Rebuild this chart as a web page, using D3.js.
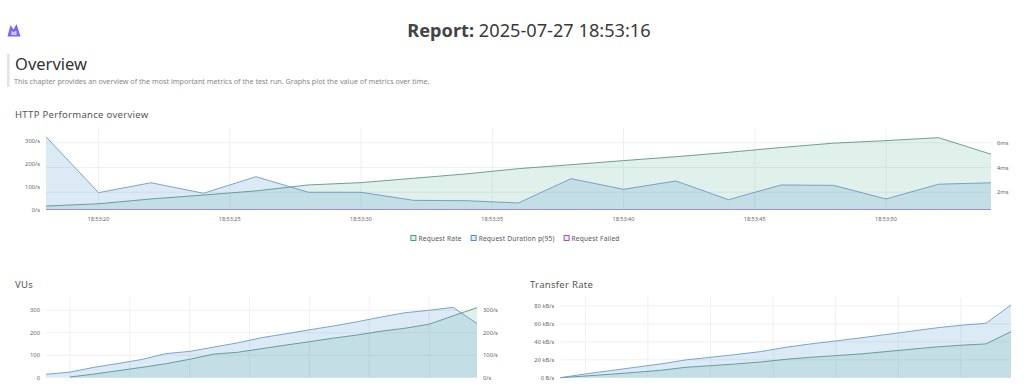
<!DOCTYPE html>
<html>
<head>
<meta charset="utf-8">
<script src="https://cdn.jsdelivr.net/npm/d3@7"></script>
<style>
  body { margin: 0; background: #fff; }
  svg text { font-family: "Noto Sans", "Open Sans", sans-serif; }
</style>
</head>
<body>
<script>
// sample times (every 2s)
var times = ["18:53:18","18:53:20","18:53:22","18:53:24","18:53:26","18:53:28","18:53:30","18:53:32","18:53:34","18:53:36",
             "18:53:38","18:53:40","18:53:42","18:53:44","18:53:46","18:53:48","18:53:50","18:53:52","18:53:54"];

// HTTP performance overview
var reqRate = [15,25,46,63,81,107,117,136,155,178,195,213,230,249,270,289,300,313,241];
var reqDuration = [6.48,1.97,2.77,1.92,3.26,2.0,2.0,1.35,1.32,1.14,3.10,2.24,2.91,1.40,2.59,2.56,1.46,2.65,2.77];
var reqFailed = [0,0,0,0,0,0,0,0,0,0,0,0,0,0,0,0,0,0,0];

// VUs chart
var vus = [null,3,16,31,46,62,82,105,113,129,145,160,176,190,207,220,238,275,312];

// Transfer rate (kB/s)
var dataReceived = [0,4.2,7.9,11.6,15.3,19.8,22.8,25.8,29.1,33.9,37.7,41,44.4,48.1,51.8,55.5,58.5,60.7,81.2];
var dataSent = [0,1.9,3.8,6,8.2,11.6,13.4,15.3,17.5,20.5,22.8,24.6,26.5,29.1,31.7,34.3,36.2,37.7,51.4];

var legendNames = ["Request Rate","Request Duration p(95)","Request Failed"];

var parseT = d3.timeParse("%Y-%m-%d %H:%M:%S");
var dates = times.map(function(t){ return parseT("2025-07-27 " + t); });
var fmtT = d3.timeFormat("%H:%M:%S");

var GREEN = "rgb(100,180,150)", BLUE = "rgb(80,150,210)", PURPLE = "#9b7fc7";
var GREEN_LINE = "rgb(85,145,130)", BLUE_LINE = "rgb(100,150,195)";

var svg = d3.select("body").append("svg").attr("width",1024).attr("height",384);

// logo
svg.append("path").attr("d","M7.5,36.5 L10.5,25 L13.5,29.5 L16.5,24 L20.5,36.5 Z").attr("fill","#7d64ff");
svg.append("text").attr("x",14).attr("y",35).attr("text-anchor","middle").attr("font-size",4.5)
  .attr("font-weight","bold").attr("fill","#fff").text("k6");

// header
var title = svg.append("text").attr("x",529).attr("y",37).attr("text-anchor","middle")
  .attr("font-size",18.2).attr("fill","#444");
title.append("tspan").attr("font-weight","bold").text("Report: ");
title.append("tspan").attr("fill","#3a3a3a").text("2025-07-27 18:53:16");

svg.append("rect").attr("x",7).attr("y",54).attr("width",2.5).attr("height",33).attr("fill","#e3e3e3");
svg.append("text").attr("x",15).attr("y",70).attr("font-size",16.5).attr("fill","#333").text("Overview");
svg.append("text").attr("x",14).attr("y",84).attr("font-size",7.2).attr("fill","#888")
  .text("This chapter provides an overview of the most important metrics of the test run. Graphs plot the value of metrics over time.");

function sectionTitle(x, y, txt){
  svg.append("text").attr("x",x).attr("y",y).attr("font-size",9.5).attr("fill","#555").attr("letter-spacing",0.3).text(txt);
}
sectionTitle(15,118,"HTTP Performance overview");
sectionTitle(15,288,"VUs");
sectionTitle(530,288,"Transfer Rate");

var drawChart = function(cfg){
  var g = svg.append("g");
  var x = d3.scaleTime().domain([dates[0], dates[dates.length-1]]).range([cfg.x0, cfg.x1]);
  var yL = d3.scaleLinear().domain(cfg.leftDomain).range([cfg.yBot, cfg.yTop]);
  var yR = cfg.rightDomain ? d3.scaleLinear().domain(cfg.rightDomain).range([cfg.yBot, cfg.yTop]) : null;

  // grid
  var gridY = cfg.gridRight ? yR : yL;
  g.selectAll(".hg").data(cfg.gridTicks).enter().append("line")
    .attr("x1",cfg.x0).attr("x2",cfg.x1)
    .attr("y1",function(d){return gridY(d);}).attr("y2",function(d){return gridY(d);})
    .attr("stroke","#f0f0f0").attr("stroke-width",1);
  var xt = x.ticks(d3.timeSecond.every(5));
  g.selectAll(".vg").data(xt).enter().append("line")
    .attr("x1",function(d){return x(d);}).attr("x2",function(d){return x(d);})
    .attr("y1",cfg.yTop).attr("y2",cfg.yBot).attr("stroke","#f0f0f0");

  // series
  cfg.series.forEach(function(s){
    var ys = s.axis === "right" ? yR : yL;
    var pts = dates.map(function(d,i){ return [d, s.values[i]]; });
    var area = d3.area().defined(function(p){return p[1] != null;})
      .x(function(p){return x(p[0]);}).y0(cfg.yBot).y1(function(p){return ys(p[1]);});
    var line = d3.line().defined(function(p){return p[1] != null;})
      .x(function(p){return x(p[0]);}).y(function(p){return ys(p[1]);});
    if (s.fill) g.append("path").datum(pts).attr("d",area).attr("fill",s.color).attr("fill-opacity",0.2);
    g.append("path").datum(pts).attr("d",line).attr("fill","none").attr("stroke",s.stroke || s.color)
      .attr("stroke-width",1).attr("stroke-opacity",s.strokeOpacity || 0.85);
  });

  // axes labels
  g.selectAll(".yl").data(cfg.leftTicks).enter().append("text")
    .attr("x",cfg.x0-6).attr("y",function(d){return yL(d)+2;})
    .attr("text-anchor","end").attr("font-size",5.8).attr("fill","#666").text(cfg.leftFmt);
  if (yR) {
    g.selectAll(".yr").data(cfg.rightTicks).enter().append("text")
      .attr("x",cfg.x1+6).attr("y",function(d){return yR(d)+2;})
      .attr("font-size",5.8).attr("fill","#666").text(cfg.rightFmt);
  }
  if (cfg.showX) {
    g.selectAll(".xl").data(xt).enter().append("text")
      .attr("x",function(d){return x(d);}).attr("y",cfg.yBot+11)
      .attr("text-anchor","middle").attr("font-size",5.5).attr("fill","#666").text(fmtT);
  }
  return g;
};

drawChart({
  x0:46, x1:991, yTop:128, yBot:209.5,
  leftDomain:[0,355], rightDomain:[0.61,7.19],
  gridRight:true, gridTicks:[2,4,6],
  leftTicks:[0,100,200,300], leftFmt:function(d){return d+"/s";},
  rightTicks:[2,4,6], rightFmt:function(d){return d+"ms";},
  showX:true,
  series:[
    {values:reqRate, color:GREEN, stroke:GREEN_LINE, fill:true, axis:"left"},
    {values:reqDuration, color:BLUE, stroke:BLUE_LINE, fill:true, axis:"right"},
    {values:reqFailed, color:PURPLE, fill:false, axis:"left", strokeOpacity:0.9}
  ]
});

// x labels of the lower charts fall below the visible page
drawChart({
  x0:46, x1:477, yTop:297, yBot:377.7,
  leftDomain:[0,359], rightDomain:[0,359],
  gridRight:false, gridTicks:[100,200,300],
  leftTicks:[0,100,200,300], leftFmt:function(d){return d;},
  rightTicks:[0,100,200,300], rightFmt:function(d){return d+"/s";},
  showX:false,
  series:[
    {values:vus, color:GREEN, stroke:GREEN_LINE, fill:true, axis:"left"},
    {values:reqRate, color:BLUE, stroke:BLUE_LINE, fill:true, axis:"right"}
  ]
});

drawChart({
  x0:560.3, x1:1011, yTop:297, yBot:377.7,
  leftDomain:[0,90], rightDomain:null,
  gridRight:false, gridTicks:[20,40,60,80],
  leftTicks:[0,20,40,60,80], leftFmt:function(d){return d===0 ? "0 B/s" : d+" kB/s";},
  showX:false,
  series:[
    {values:dataSent, color:GREEN, stroke:GREEN_LINE, fill:true, axis:"left"},
    {values:dataReceived, color:BLUE, stroke:BLUE_LINE, fill:true, axis:"left"}
  ]
});

// legend for the HTTP chart
var legendColors = ["#3f9f82","#4a8fc8","#9b59b6"];
var lg = svg.append("g");
var lx = 0;
legendNames.forEach(function(name,i){
  var it = lg.append("g").attr("transform","translate("+lx+",0)");
  it.append("rect").attr("x",0.5).attr("y",235.5).attr("width",5).attr("height",5)
    .attr("fill",legendColors[i]).attr("fill-opacity",0.15).attr("stroke",legendColors[i]).attr("stroke-width",1);
  var t = it.append("text").attr("x",8).attr("y",240.5).attr("font-size",6.6).attr("fill","#555")
    .attr("letter-spacing",0.2).text(name);
  lx += 8 + t.node().getComputedTextLength() + 9;
});
lg.attr("transform","translate("+(515-(lx-9)/2)+",0)");
</script>
</body>
</html>
